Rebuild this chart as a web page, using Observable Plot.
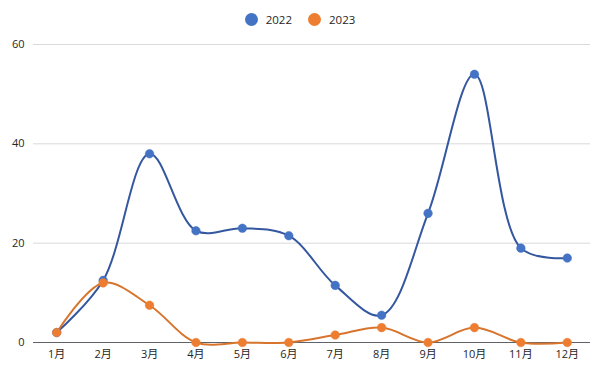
<!DOCTYPE html>
<html><head><meta charset="utf-8">
<script src="https://cdn.jsdelivr.net/npm/d3@7"></script>
<script src="https://cdn.jsdelivr.net/npm/@observablehq/plot@0.6"></script>
<style>
body{margin:0;background:#fff;font-family:"Open Sans","Noto Sans CJK SC",sans-serif;}
#legend{height:32px;padding-top:6px;box-sizing:border-box;display:flex;justify-content:center;align-items:center;gap:16px;font-size:11.5px;color:#262626;}
#legend span.item{display:flex;align-items:center;gap:8px;}
#legend span.sw{width:13px;height:13px;border-radius:50%;display:inline-block;}
</style></head>
<body>
<div id="legend"></div>
<div id="chart"></div>
<script>
const months = ["1月","2月","3月","4月","5月","6月","7月","8月","9月","10月","11月","12月"];
const series = ["2022","2023"];
const values2022 = [2,12.5,38,22.5,23,21.5,11.5,5.5,26,54,19,17];
const values2023 = [2,12,7.5,0,0,0,1.5,3,0,3,0,0];
const yTicks = [0,20,40,60];
const dotColors = ["#4472C4","#ED7D31"];
const lineColors = ["#34579f","#d8742c"];

const data = [];
months.forEach((m,i)=>{
  data.push({month:m, series:series[0], value:values2022[i]});
  data.push({month:m, series:series[1], value:values2023[i]});
});

const leg = document.getElementById("legend");
series.forEach((s,i)=>{
  const it = document.createElement("span"); it.className="item";
  const sw = document.createElement("span"); sw.className="sw"; sw.style.background=dotColors[i];
  const t = document.createElement("span"); t.textContent=s;
  it.appendChild(sw); it.appendChild(t); leg.appendChild(it);
});

const lineStroke = d3.scaleOrdinal(series, lineColors);

const chart = Plot.plot({
  width:600, height:339,
  marginTop:12, marginBottom:29, marginLeft:33, marginRight:10,
  style:{fontFamily:'"Open Sans","Noto Sans CJK SC",sans-serif', fontSize:"11px", color:"#262626", background:"#fff", overflow:"visible"},
  x:{type:"point", domain:months, padding:0.5, round:false, label:null, tickSize:0, tickPadding:8},
  y:{domain:[0,60], ticks:yTicks, label:null, tickSize:0, tickPadding:9},
  color:{domain:series, range:dotColors},
  marks:[
    Plot.ruleY(yTicks.filter(d=>d>0), {stroke:"#d9d9d9", strokeWidth:1}),
    Plot.ruleY([0], {stroke:"#5f6368", strokeWidth:1.2}),
    Plot.line(data, {x:"month", y:"value", stroke:d=>lineStroke(d.series), z:"series", curve:"catmull-rom", strokeWidth:2}),
    Plot.dot(data, {x:"month", y:"value", fill:"series", r:4.3, stroke:"series", strokeWidth:0.5})
  ]
});
document.getElementById("chart").appendChild(chart);
</script>
</body></html>
